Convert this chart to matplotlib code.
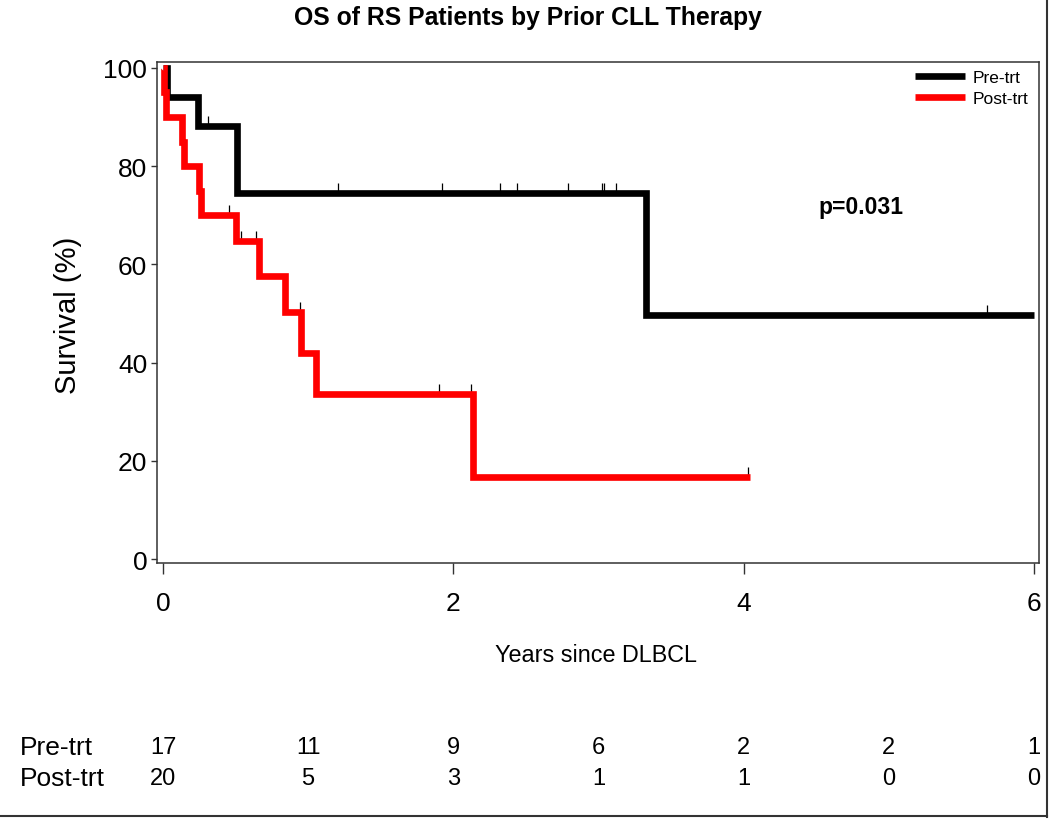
import matplotlib
matplotlib.use("Agg")
import matplotlib.pyplot as plt
from matplotlib import transforms
from matplotlib.lines import Line2D

plt.rcParams['font.family'] = ['Liberation Sans', 'DejaVu Sans']

# ---------------- data ----------------
pre_times = [0.0, 0.03, 0.24, 0.51, 3.325]
pre_surv = [100.0, 94.1, 88.2, 74.6, 49.7]
pre_end = 6.0
pre_censor = [0.31, 1.208, 1.924, 2.319, 2.441, 2.790, 3.024, 3.040, 3.118, 5.674]

post_times = [0.0, 0.005, 0.02, 0.129, 0.145, 0.25, 0.262, 0.50, 0.661, 0.84, 0.95, 1.054, 2.133]
post_surv = [100.0, 95.0, 90.0, 85.0, 80.0, 75.0, 70.0, 64.8, 57.6, 50.4, 42.0, 33.6, 16.8]
post_end = 4.04
post_censor = [0.455, 0.535, 0.643, 0.944, 1.903, 2.12, 4.032]

risk_years = [0, 1, 2, 3, 4, 5, 6]
risk_pre = [17, 11, 9, 6, 2, 2, 1]
risk_post = [20, 5, 3, 1, 1, 0, 0]

group_names = ['Pre-trt', 'Post-trt']
group_colors = ['black', '#ff0000']


def surv_at(times, surv, t):
    s = surv[0]
    for ti, si in zip(times, surv):
        if ti <= t:
            s = si
    return s


fig = plt.figure(figsize=(10.5, 8.2), dpi=100)
ax = fig.add_axes([157 / 1050, 1 - 564 / 820, (1039 - 157) / 1050, (564 - 63) / 820])

ax.set_xlim(-0.041, 6.034)
ax.set_ylim(-0.8, 101.2)

censor_marker = [(0, 0), (0, 1)]
series = [
    (pre_times, pre_surv, pre_end, pre_censor),
    (post_times, post_surv, post_end, post_censor),
]
for (times, surv, end, cens), name, col in zip(series, group_names, group_colors):
    xs = list(times) + [end]
    ys = list(surv) + [surv[-1]]
    ax.step(xs, ys, where='post', color=col, lw=4.8, label=name, zorder=3,
            solid_joinstyle='miter', solid_capstyle='butt')
    cy = [surv_at(times, surv, c) for c in cens]
    ax.plot(cens, cy, linestyle='none', marker=censor_marker, markersize=14,
            markeredgewidth=0.9, color='black', zorder=2)

ax.set_xticks([0, 2, 4, 6])
ax.set_yticks([0, 20, 40, 60, 80, 100])
ax.tick_params(axis='y', labelsize=19, length=4, width=1, pad=3, color='#333333')
ax.tick_params(axis='x', labelsize=19, length=8, width=1, pad=12, color='#333333')
for sp in ax.spines.values():
    sp.set_linewidth(1.1)
    sp.set_color('#333333')

leg = ax.legend(loc='upper right', bbox_to_anchor=(1.0, 1.005), frameon=False,
                fontsize=12.5, handlelength=2.9, handletextpad=0.45, labelspacing=0.35,
                borderaxespad=0.2)

ax.text(4.81, 71.7, 'p=0.031', fontsize=16.5, fontweight='bold', ha='center', va='center')

fig.text(0.503, 1 - 18 / 820, 'OS of RS Patients by Prior CLL Therapy', fontsize=17.8,
         fontweight='bold', ha='center', va='center')
fig.text(68 / 1050, 1 - 315 / 820, 'Survival (%)', fontsize=21, rotation=90,
         ha='center', va='center')
fig.text(596 / 1050, 1 - 655 / 820, 'Years since DLBCL', fontsize=16.8,
         ha='center', va='center')

# risk table
trans = transforms.blended_transform_factory(ax.transData, fig.transFigure)
for label, counts, ypix in [(group_names[0], risk_pre, 748), (group_names[1], risk_post, 779)]:
    fig.text(20 / 1050, 1 - ypix / 820, label, fontsize=19, ha='left', va='center')
    for yr, c in zip(risk_years, counts):
        ax.text(yr, 1 - ypix / 820, str(c), transform=trans, fontsize=17,
                ha='center', va='center', clip_on=False)

# figure border (right and bottom)
fig.add_artist(Line2D([1047 / 1050, 1047 / 1050], [1 - 818 / 820, 1.0],
                      transform=fig.transFigure, color='#333333', lw=1.5))
fig.add_artist(Line2D([0, 1047 / 1050], [1 - 817 / 820, 1 - 817 / 820],
                      transform=fig.transFigure, color='#333333', lw=1.5))

fig.savefig('out.png', dpi=100)
